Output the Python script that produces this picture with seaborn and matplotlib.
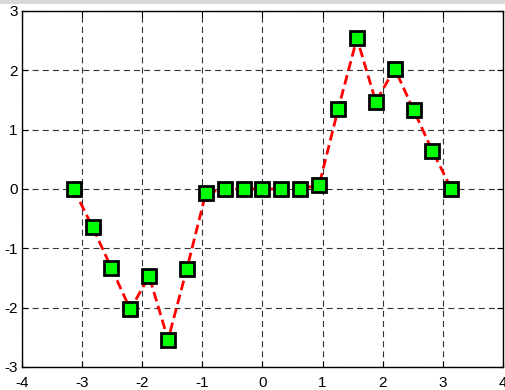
import numpy as np
import pandas as pd
import matplotlib
matplotlib.use("Agg")
import matplotlib.pyplot as plt
from matplotlib.patches import Rectangle
import seaborn as sns

# Sample positions and measured values
x_vals = [-3.1416, -2.8274, -2.5133, -2.1991, -1.8850, -1.5708, -1.2566,
          -0.9425, -0.6283, -0.3142, 0.0, 0.3142, 0.6283, 0.9425,
          1.2566, 1.5708, 1.8850, 2.1991, 2.5133, 2.8274, 3.1416]
y_vals = [0.0, -0.64, -1.33, -2.03, -1.47, -2.54, -1.34,
          -0.07, 0.00, 0.00, 0.0, 0.00, 0.00, 0.07,
          1.34, 2.54, 1.47, 2.03, 1.33, 0.64, 0.0]
x_ticks = [-4, -3, -2, -1, 0, 1, 2, 3, 4]
y_ticks = [-3, -2, -1, 0, 1, 2, 3]

df = pd.DataFrame({"x": x_vals, "y": y_vals})

sns.set_theme(style="white")
plt.rcParams["font.family"] = ["Liberation Sans", "DejaVu Sans"]
plt.rcParams["lines.scale_dashes"] = False

fig = plt.figure(figsize=(5.06, 3.90), dpi=100, facecolor="white")
W, H = 506, 390
ax = fig.add_axes([22 / W, (H - 367) / H, (503 - 22) / W, (367 - 11) / H])
ax.set_facecolor("white")

# grey band of the window frame along the top edge
fig.patches.append(Rectangle((0, (H - 4) / H), 1, 4 / H, transform=fig.transFigure,
                             facecolor="#d9d9d9", edgecolor="none", zorder=0))

sns.lineplot(data=df, x="x", y="y", ax=ax, sort=False, color="#ff0000",
             linewidth=2, linestyle=(0, (7.0, 3.4)), marker="s", markersize=10,
             markerfacecolor="#00ff00", markeredgecolor="black",
             markeredgewidth=2, zorder=3)

ax.set_xlim(-4, 4)
ax.set_ylim(-3, 3)
ax.set_xticks(x_ticks)
ax.set_yticks(y_ticks)
ax.set_xticklabels([str(t) for t in x_ticks])
ax.set_yticklabels([str(t) for t in y_ticks])
ax.set_xlabel("")
ax.set_ylabel("")

ax.grid(True, color="#333333", linewidth=0.8, linestyle=(0, (4.3, 3.0)))
ax.set_axisbelow(True)

for s in ax.spines.values():
    s.set_visible(True)
    s.set_color("black")
    s.set_linewidth(1.0)

ax.tick_params(axis="both", direction="in", length=4, width=0.8, colors="black",
               labelsize=11, top=True, right=True, bottom=True, left=True)
ax.tick_params(axis="x", pad=6.5)
ax.tick_params(axis="y", pad=3)

fig.savefig("out.png", dpi=100, facecolor="white")
